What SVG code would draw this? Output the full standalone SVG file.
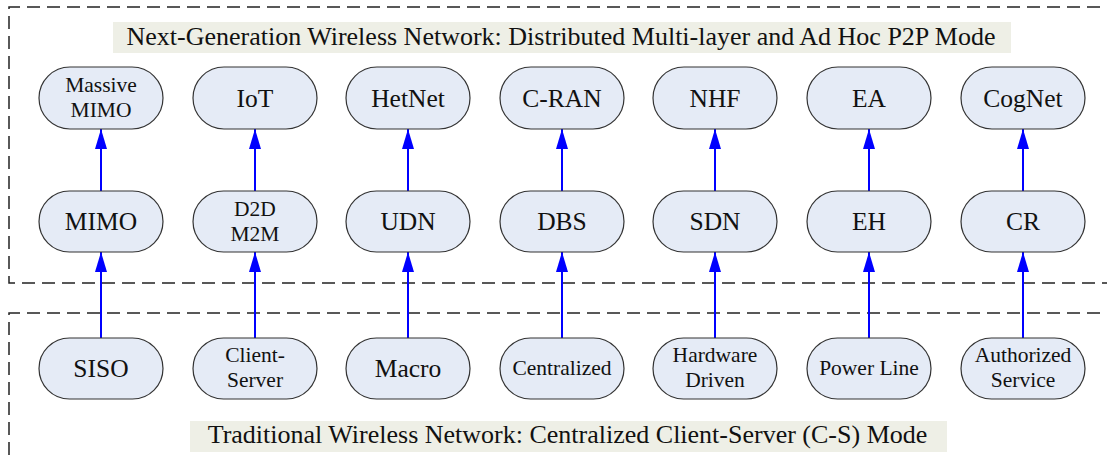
<svg xmlns="http://www.w3.org/2000/svg" width="1107" height="460" viewBox="0 0 1107 460">
<defs>
<style>
.frame{fill:none;stroke:#222;stroke-width:1.5;stroke-dasharray:13 7}
.band{fill:#eeefe6}
.title{font-family:"Liberation Serif",serif;font-size:26px;fill:#111;text-anchor:middle}
.node rect{fill:#e5ebf6;stroke:#333;stroke-width:1.2}
.node text{font-family:"Liberation Serif",serif;fill:#111;text-anchor:middle}
.big{font-size:25.5px}
.small{font-size:21.5px}
.conn{stroke:#0000ff;stroke-width:2;fill:none;marker-end:url(#ah)}
</style>
<marker id="ah" viewBox="0 0 20 12" refX="20" refY="6" markerWidth="20" markerHeight="12" markerUnits="userSpaceOnUse" orient="auto">
<path d="M0,0 L20,6 L0,12 Z" fill="#0000ff"/>
</marker>
</defs>
<rect width="1107" height="460" fill="#fff"/>
<g id="frames">
<path class="frame" d="M1120,7 H9 V283 H1120"/>
<path class="frame" d="M1120,313 H9 V470"/>
</g>
<g id="title-top">
<rect class="band" x="113" y="22" width="898" height="31"/>
<text class="title" x="561" y="45">Next-Generation Wireless Network: Distributed Multi-layer and Ad Hoc P2P Mode</text>
</g>
<g id="title-bottom">
<rect class="band" x="190" y="421" width="757" height="31"/>
<text class="title" x="567.5" y="443">Traditional Wireless Network: Centralized Client-Server (C-S) Mode</text>
</g>
<g id="connectors">
<line class="conn" x1="101" y1="338" x2="101" y2="252"/>
<line class="conn" x1="101" y1="191" x2="101" y2="129"/>
<line class="conn" x1="255" y1="338" x2="255" y2="252"/>
<line class="conn" x1="255" y1="191" x2="255" y2="129"/>
<line class="conn" x1="408" y1="338" x2="408" y2="252"/>
<line class="conn" x1="408" y1="191" x2="408" y2="129"/>
<line class="conn" x1="562" y1="338" x2="562" y2="252"/>
<line class="conn" x1="562" y1="191" x2="562" y2="129"/>
<line class="conn" x1="715" y1="338" x2="715" y2="252"/>
<line class="conn" x1="715" y1="191" x2="715" y2="129"/>
<line class="conn" x1="869" y1="338" x2="869" y2="252"/>
<line class="conn" x1="869" y1="191" x2="869" y2="129"/>
<line class="conn" x1="1023" y1="338" x2="1023" y2="252"/>
<line class="conn" x1="1023" y1="191" x2="1023" y2="129"/>
</g>
<g id="n-massive-mimo" class="node"><rect x="39" y="67" width="124" height="62" rx="31"/><text class="small" x="101" y="92">Massive</text><text class="small" x="101" y="117">MIMO</text></g>
<g id="n-iot" class="node"><rect x="193" y="67" width="124" height="62" rx="31"/><text class="big" x="255" y="107">IoT</text></g>
<g id="n-hetnet" class="node"><rect x="346" y="67" width="124" height="62" rx="31"/><text class="big" x="408" y="107">HetNet</text></g>
<g id="n-cran" class="node"><rect x="500" y="67" width="124" height="62" rx="31"/><text class="big" x="562" y="107">C-RAN</text></g>
<g id="n-nhf" class="node"><rect x="653" y="67" width="124" height="62" rx="31"/><text class="big" x="715" y="107">NHF</text></g>
<g id="n-ea" class="node"><rect x="807" y="67" width="124" height="62" rx="31"/><text class="big" x="869" y="107">EA</text></g>
<g id="n-cognet" class="node"><rect x="961" y="67" width="124" height="62" rx="31"/><text class="big" x="1023" y="107">CogNet</text></g>

<g id="n-mimo" class="node"><rect x="39" y="191" width="124" height="61" rx="30.5"/><text class="big" x="101" y="230">MIMO</text></g>
<g id="n-d2d" class="node"><rect x="193" y="191" width="124" height="61" rx="30.5"/><text class="small" x="255" y="216">D2D</text><text class="small" x="255" y="241">M2M</text></g>
<g id="n-udn" class="node"><rect x="346" y="191" width="124" height="61" rx="30.5"/><text class="big" x="408" y="230">UDN</text></g>
<g id="n-dbs" class="node"><rect x="500" y="191" width="124" height="61" rx="30.5"/><text class="big" x="562" y="230">DBS</text></g>
<g id="n-sdn" class="node"><rect x="653" y="191" width="124" height="61" rx="30.5"/><text class="big" x="715" y="230">SDN</text></g>
<g id="n-eh" class="node"><rect x="807" y="191" width="124" height="61" rx="30.5"/><text class="big" x="869" y="230">EH</text></g>
<g id="n-cr" class="node"><rect x="961" y="191" width="124" height="61" rx="30.5"/><text class="big" x="1023" y="230">CR</text></g>

<g id="n-siso" class="node"><rect x="39" y="338" width="124" height="61" rx="30.5"/><text class="big" x="101" y="377">SISO</text></g>
<g id="n-client-server" class="node"><rect x="193" y="338" width="124" height="61" rx="30.5"/><text class="small" x="255" y="362">Client-</text><text class="small" x="255" y="387">Server</text></g>
<g id="n-macro" class="node"><rect x="346" y="338" width="124" height="61" rx="30.5"/><text class="big" x="408" y="377">Macro</text></g>
<g id="n-centralized" class="node"><rect x="500" y="338" width="124" height="61" rx="30.5"/><text class="small" x="562" y="375">Centralized</text></g>
<g id="n-hardware" class="node"><rect x="653" y="338" width="124" height="61" rx="30.5"/><text class="small" x="715" y="362">Hardware</text><text class="small" x="715" y="387">Driven</text></g>
<g id="n-power" class="node"><rect x="807" y="338" width="124" height="61" rx="30.5"/><text class="small" x="869" y="375">Power Line</text></g>
<g id="n-authorized" class="node"><rect x="961" y="338" width="124" height="61" rx="30.5"/><text class="small" x="1023" y="362">Authorized</text><text class="small" x="1023" y="387">Service</text></g>
</svg>
